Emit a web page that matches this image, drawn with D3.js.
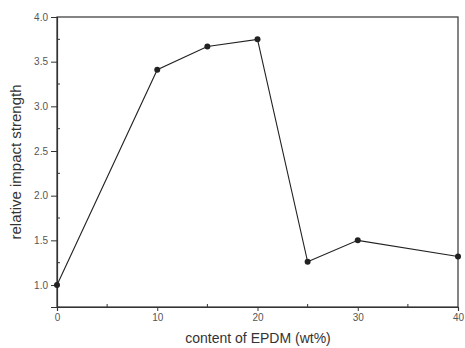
<!DOCTYPE html>
<html><head><meta charset="utf-8">
<script src="https://cdn.jsdelivr.net/npm/d3@7"></script>
<style>body{margin:0;background:#fff}svg{display:block}</style>
</head><body>
<svg id="c" width="465" height="348"></svg>
<script>
const xValues = [0, 10, 15, 20, 25, 30, 40];
const yValues = [1.0, 3.41, 3.67, 3.75, 1.26, 1.50, 1.32];
const xTicks = [0, 10, 20, 30, 40];
const yTicks = [1.0, 1.5, 2.0, 2.5, 3.0, 3.5, 4.0];
const xMinor = [5, 15, 25, 35];
const yMinor = [0.75, 1.25, 1.75, 2.25, 2.75, 3.25, 3.75];

const svg = d3.select("#c");
const L = 57, R = 458, T = 17, B = 307;
const x = d3.scaleLinear().domain([0, 40]).range([L, R]);
const y = d3.scaleLinear().domain([0.754, 4.0]).range([B, T]);
const col = "#333";
const ff = "Arial, 'Liberation Sans', sans-serif";

svg.append("rect").attr("x", L).attr("y", T).attr("width", R - L).attr("height", B - T)
  .attr("fill", "none").attr("stroke", col).attr("stroke-width", 1.2);

const xAx = svg.append("g").attr("transform", `translate(0,${B})`)
  .call(d3.axisBottom(x).tickValues(xTicks).tickFormat(d3.format("d")).tickSize(4).tickPadding(3));
const yAx = svg.append("g").attr("transform", `translate(${L},0)`)
  .call(d3.axisLeft(y).tickValues(yTicks).tickFormat(d3.format(".1f")).tickSize(6).tickPadding(3));
[xAx, yAx].forEach(g => {
  g.select(".domain").attr("stroke", col).attr("stroke-width", 1.2);
  g.selectAll(".tick line").attr("stroke", col);
  g.selectAll("text").attr("fill", "#555").style("font-family", ff).style("font-size", "10px");
});
svg.append("g").selectAll("line").data(xMinor).join("line")
  .attr("x1", d => x(d)).attr("x2", d => x(d)).attr("y1", B).attr("y2", B - 3).attr("stroke", col);
svg.append("g").selectAll("line").data(yMinor).join("line")
  .attr("x1", L).attr("x2", L + 3).attr("y1", d => y(d)).attr("y2", d => y(d)).attr("stroke", col);

const pts = xValues.map((v, i) => [v, yValues[i]]);
svg.append("path").datum(pts)
  .attr("d", d3.line().x(d => x(d[0])).y(d => y(d[1])))
  .attr("fill", "none").attr("stroke", "#222").attr("stroke-width", 1.1);
svg.append("g").selectAll("circle").data(pts).join("circle")
  .attr("cx", d => x(d[0])).attr("cy", d => y(d[1])).attr("r", 3).attr("fill", "#222");

svg.append("text").attr("x", 258).attr("y", 343).attr("text-anchor", "middle")
  .style("font-family", ff).style("font-size", "14px").attr("fill", "#333")
  .text("content of EPDM (wt%)");
svg.append("text").attr("transform", `translate(21,${(T + B) / 2}) rotate(-90)`).attr("text-anchor", "middle")
  .style("font-family", ff).style("font-size", "15px").attr("fill", "#333")
  .text("relative impact strength");
</script>
</body></html>
